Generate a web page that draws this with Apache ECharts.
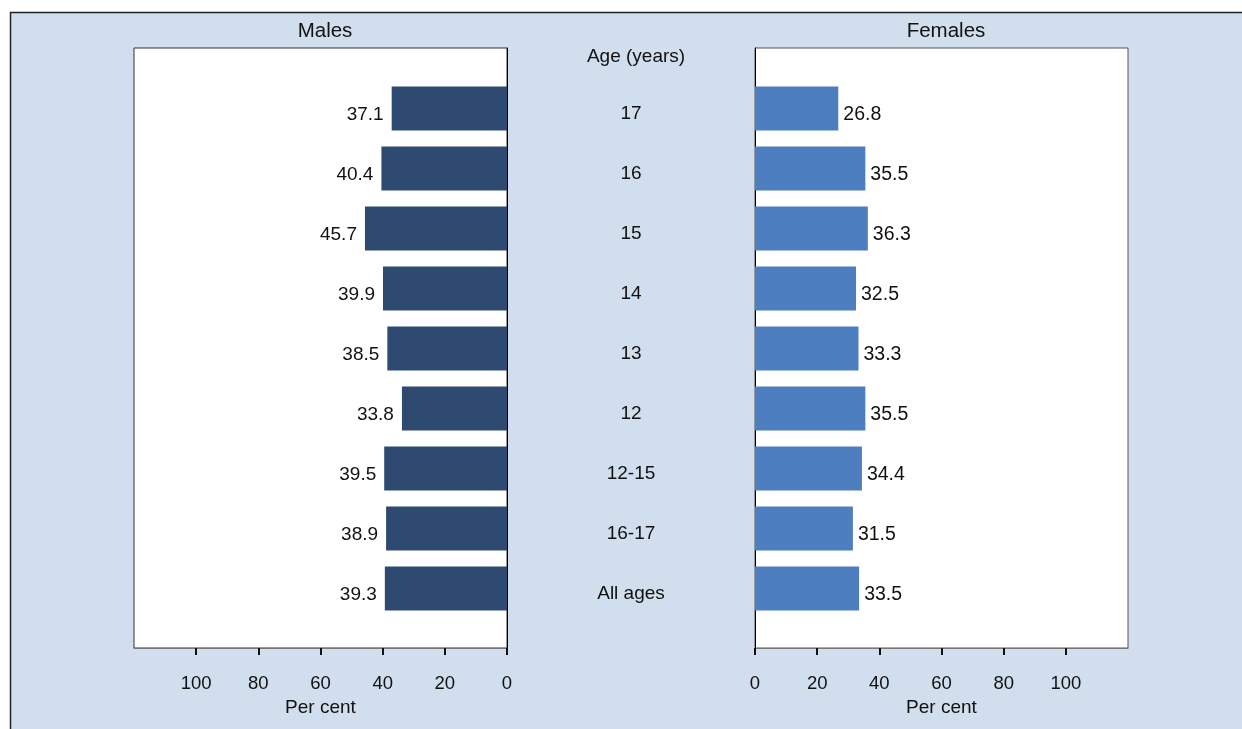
<!DOCTYPE html>
<html>
<head>
<meta charset="utf-8">
<script src="https://cdn.jsdelivr.net/npm/echarts@6/dist/echarts.min.js"></script>
<style>
html,body{margin:0;padding:0;background:#fff;}
#chart{width:1242px;height:729px;}
</style>
</head>
<body>
<div id="chart"></div>
<script>
const categories = ['17','16','15','14','13','12','12-15','16-17','All ages'];
const males = [37.1, 40.4, 45.7, 39.9, 38.5, 33.8, 39.5, 38.9, 39.3];
const females = [26.8, 35.5, 36.3, 32.5, 33.3, 35.5, 34.4, 31.5, 33.5];
const tickValues = [0, 20, 40, 60, 80, 100];

const FONT = 'Liberation Sans, Arial, sans-serif';
const chart = echarts.init(document.getElementById('chart'));

function frameX(gridIndex, inverse) {
  return {
    type: 'value', gridIndex: gridIndex, min: 0, max: 120, interval: 20, inverse: inverse,
    axisLine: {show: true, lineStyle: {color: '#777', width: 1}},
    axisTick: {show: true, inside: false, length: 7, customValues: tickValues, lineStyle: {color: '#111', width: 2}},
    axisLabel: {show: true, customValues: tickValues, margin: 26, fontSize: 18.5, color: '#111', fontFamily: FONT},
    splitLine: {show: false},
    name: 'Per cent', nameLocation: 'middle', nameGap: 45,
    nameTextStyle: {fontSize: 19, color: '#111', fontFamily: FONT}
  };
}
function frameY(gridIndex, pos) {
  return {
    type: 'value', gridIndex: gridIndex, min: 0, max: 1, position: pos,
    axisLine: {show: true, onZero: false, lineStyle: {color: '#000', width: 1}},
    axisTick: {show: false}, axisLabel: {show: false}, splitLine: {show: false}
  };
}

chart.setOption({
  animation: false,
  backgroundColor: 'transparent',
  graphic: [{
    type: 'rect', z: -10, silent: true,
    shape: {x: 10.5, y: 12.5, width: 1240, height: 730},
    style: {fill: '#D1DEED', stroke: '#222', lineWidth: 1.5}
  }],
  title: [
    {text: 'Males', left: 320, top: 16, textAlign: 'center', textStyle: {fontSize: 20.5, fontWeight: 'normal', color: '#111', fontFamily: FONT}},
    {text: 'Females', left: 941, top: 16, textAlign: 'center', textStyle: {fontSize: 20.5, fontWeight: 'normal', color: '#111', fontFamily: FONT}},
    {text: 'Age (years)', left: 631, top: 42, textAlign: 'center', textStyle: {fontSize: 19, fontWeight: 'normal', color: '#111', fontFamily: FONT}}
  ],
  grid: [
    {left: 134, top: 48, width: 373, height: 600, show: true, backgroundColor: '#fff', borderColor: '#333', borderWidth: 1},
    {left: 755, top: 48, width: 373, height: 600, show: true, backgroundColor: '#fff', borderColor: '#555', borderWidth: 1},
    {left: 134, top: 78.5, width: 373, height: 540},
    {left: 755, top: 78.5, width: 373, height: 540},
    {left: 755, top: 84, width: 373, height: 540}
  ],
  xAxis: [
    frameX(0, true),
    frameX(1, false),
    {type: 'value', gridIndex: 2, min: 0, max: 120, inverse: true, show: false},
    {type: 'value', gridIndex: 3, min: 0, max: 120, show: false},
    {type: 'value', gridIndex: 4, min: 0, max: 120, show: false}
  ],
  yAxis: [
    frameY(0, 'right'),
    frameY(1, 'left'),
    {type: 'category', gridIndex: 2, data: categories, inverse: true, show: false},
    {type: 'category', gridIndex: 3, data: categories, inverse: true, show: false},
    {type: 'category', gridIndex: 4, data: categories, inverse: true,
     axisLine: {show: false}, axisTick: {show: false},
     axisLabel: {show: true, align: 'center', margin: 124, fontSize: 19, color: '#111', fontFamily: FONT}}
  ],
  series: [
    {
      name: 'Males', type: 'bar', xAxisIndex: 2, yAxisIndex: 2, data: males, barWidth: 44,
      itemStyle: {color: '#2E4A70'},
      label: {show: true, position: 'left', distance: 8, offset: [0, 6], fontSize: 19, color: '#111', fontFamily: FONT, formatter: p => p.value.toFixed(1)}
    },
    {
      name: 'Females', type: 'bar', xAxisIndex: 3, yAxisIndex: 3, data: females, barWidth: 44,
      itemStyle: {color: '#4D7FC0'},
      label: {show: true, position: 'right', distance: 5, offset: [0, 6], fontSize: 19.5, color: '#111', fontFamily: FONT, formatter: p => p.value.toFixed(1)}
    }
  ]
});
</script>
</body>
</html>
